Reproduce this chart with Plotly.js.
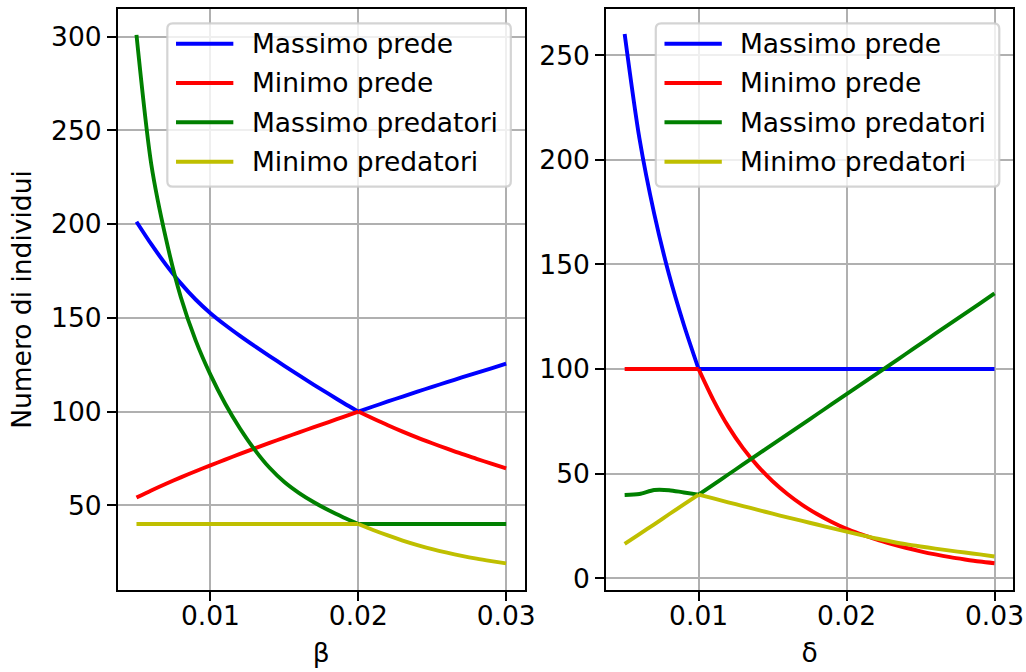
<!DOCTYPE html>
<html>
<head>
<meta charset="utf-8">
<script src="https://cdn.plot.ly/plotly-3.0.1.min.js"></script>
<style>
  html, body { margin: 0; padding: 0; background: #ffffff; }
  #chart { width: 1026px; height: 672px; }
</style>
</head>
<body>
<div id="chart"></div>
<script>
// ---------- data ----------
const seriesNames = ["Massimo prede", "Minimo prede", "Massimo predatori", "Minimo predatori"];
const seriesColors = ["#0000ff", "#ff0000", "#008000", "#bfbf00"];

const beta = [0.005, 0.006, 0.007, 0.008, 0.009, 0.010, 0.011, 0.012, 0.013, 0.014, 0.015, 0.016, 0.017,
              0.018, 0.019, 0.020, 0.021, 0.022, 0.023, 0.024, 0.025, 0.026, 0.027, 0.028, 0.029, 0.030];
const betaMaxPrede = [201.3, 189.3, 178.3, 168.4, 159.8, 152.5, 146.2, 140.4, 134.9, 129.6, 124.4, 119.3, 114.3,
                      109.4, 104.6, 100.0, 102.7, 105.4, 108.0, 110.6, 113.2, 115.7, 118.2, 120.7, 123.1, 125.6];
const betaMinPrede = [54.1, 57.9, 61.5, 64.9, 68.2, 71.3, 74.4, 77.4, 80.4, 83.3, 86.1, 88.9, 91.7,
                      94.4, 97.2, 100.0, 96.3, 92.7, 89.3, 86.1, 83.1, 80.2, 77.4, 74.8, 72.2, 69.7];
const betaMaxPredatori = [301.0, 232.0, 192.0, 161.0, 138.0, 119.7, 104.2, 91.0, 79.6, 70.0, 62.4, 56.5, 51.6,
                          47.3, 43.5, 40.0, 40.0, 40.0, 40.0, 40.0, 40.0, 40.0, 40.0, 40.0, 40.0, 40.0];
const betaMinPredatori = [40.0, 40.0, 40.0, 40.0, 40.0, 40.0, 40.0, 40.0, 40.0, 40.0, 40.0, 40.0, 40.0,
                          40.0, 40.0, 40.0, 36.8, 33.9, 31.2, 28.8, 26.6, 24.7, 23.0, 21.5, 20.2, 19.0];
const betaEquilibrium = 0.020;   // where all four β-curves meet

const delta = [0.005, 0.006, 0.007, 0.008, 0.009, 0.010, 0.011, 0.012, 0.013, 0.014, 0.015, 0.016, 0.017,
               0.018, 0.019, 0.020, 0.021, 0.022, 0.023, 0.024, 0.025, 0.026, 0.027, 0.028, 0.029, 0.030];
const deltaMaxPrede = [260.2, 210.2, 174.2, 145.2, 121.2, 100.0, 100.0, 100.0, 100.0, 100.0, 100.0, 100.0, 100.0,
                       100.0, 100.0, 100.0, 100.0, 100.0, 100.0, 100.0, 100.0, 100.0, 100.0, 100.0, 100.0, 100.0];
const deltaMinPrede = [100.0, 100.0, 100.0, 100.0, 100.0, 100.0, 85.2, 72.6, 62.2, 53.6, 46.4, 40.3, 35.1,
                       30.7, 26.9, 23.6, 21.0, 18.6, 16.5, 14.6, 12.9, 11.4, 10.1, 9.0, 8.0, 7.2];
const deltaMaxPredatori = [39.8, 40.3, 42.2, 42.1, 41.0, 40.0, 44.8, 49.6, 54.4, 59.2, 64.0, 68.8, 73.6,
                           78.4, 83.2, 88.0, 92.8, 97.6, 102.4, 107.2, 112.0, 116.9, 121.7, 126.5, 131.3, 136.2];
const deltaMinPredatori = [16.4, 21.1, 25.8, 30.6, 35.3, 40.0, 38.2, 36.3, 34.5, 32.7, 30.9, 29.1, 27.4,
                           25.7, 24.0, 22.3, 20.6, 19.0, 17.6, 16.3, 15.2, 14.2, 13.2, 12.3, 11.4, 10.4];
const deltaEquilibrium = 0.010;  // where all four δ-curves meet

const xTitleLeft = "β";
const xTitleRight = "δ";
const yTitle = "Numero di individui";

// ---------- figure geometry (pixels) ----------
const FIG_W = 1026, FIG_H = 672;
const M = { l: 118, r: 13.3, t: 9, b: 82 };
const PW = FIG_W - M.l - M.r;
const PH = FIG_H - M.t - M.b;
const px2x = p => (p - M.l) / PW;
const py2y = p => (FIG_H - M.b - p) / PH;

const FONT = "DejaVu Sans, Liberation Sans, sans-serif";
const FS = 26.5;
const LW = 3.9;

const leftSeries = [betaMaxPrede, betaMinPrede, betaMaxPredatori, betaMinPredatori];
const rightSeries = [deltaMaxPrede, deltaMinPrede, deltaMaxPredatori, deltaMinPredatori];

// each curve is smooth on both sides of the equilibrium point, with a corner there
function addCurve(traces, xs, ys, kinkX, i, xa, ya) {
  const k = xs.findIndex(v => Math.abs(v - kinkX) < 1e-9);
  const parts = [[xs.slice(0, k + 1), ys.slice(0, k + 1)], [xs.slice(k), ys.slice(k)]];
  parts.forEach(p => traces.push({
    type: "scatter", mode: "lines", x: p[0], y: p[1], name: seriesNames[i],
    legendgroup: seriesNames[i], showlegend: false,
    line: { color: seriesColors[i], width: LW, shape: "spline", smoothing: 0.8 },
    xaxis: xa, yaxis: ya
  }));
}

const traces = [];
leftSeries.forEach((ys, i) => addCurve(traces, beta, ys, betaEquilibrium, i, "x", "y"));
rightSeries.forEach((ys, i) => addCurve(traces, delta, ys, deltaEquilibrium, i, "x2", "y2"));

function axisCommon() {
  return {
    showline: true, mirror: true, linecolor: "#000000", linewidth: 2,
    ticks: "outside", ticklen: 9, tickwidth: 2, tickcolor: "#000000",
    showgrid: true, gridcolor: "#b0b0b0", gridwidth: 2,
    zeroline: false,
    tickfont: { family: FONT, size: FS, color: "#000000" },
    automargin: false
  };
}

const xLeftRightEdge = px2x(524.5);
const xRightLeftEdge = px2x(606);

const layout = {
  width: FIG_W, height: FIG_H,
  margin: M,
  paper_bgcolor: "#ffffff", plot_bgcolor: "#ffffff",
  font: { family: FONT, size: FS, color: "#000000" },
  showlegend: false,
  xaxis: Object.assign(axisCommon(), {
    domain: [0, xLeftRightEdge], anchor: "y",
    range: [0.00375, 0.03125], tick0: 0, dtick: 0.01, tickformat: ".2f",
    ticklabelstandoff: -8,
    title: { text: xTitleLeft, font: { family: FONT, size: FS, color: "#000000" }, standoff: 14 }
  }),
  yaxis: Object.assign(axisCommon(), {
    domain: [0, 1], anchor: "x",
    range: [4.8, 314.8], tick0: 0, dtick: 50,
    title: { text: yTitle, font: { family: FONT, size: FS, color: "#000000" }, standoff: 12 }
  }),
  xaxis2: Object.assign(axisCommon(), {
    domain: [xRightLeftEdge, 1], anchor: "y2",
    range: [0.00375, 0.03125], tick0: 0, dtick: 0.01, tickformat: ".2f",
    ticklabelstandoff: -8,
    title: { text: xTitleRight, font: { family: FONT, size: FS, color: "#000000" }, standoff: 14 }
  }),
  yaxis2: Object.assign(axisCommon(), {
    domain: [0, 1], anchor: "x2",
    range: [-5.6, 272.1], tick0: 0, dtick: 50
  }),
  shapes: [],
  annotations: []
};

// ---------- legends (one per panel), drawn in matplotlib style ----------
function addLegend(boxLeftPx) {
  const top = 23.3, bottom = 186.7, w = 343.4, r = 5.5;
  const x0 = px2x(boxLeftPx), x1 = px2x(boxLeftPx + w);
  const y1 = py2y(top), y0 = py2y(bottom);
  const rx = r / PW, ry = r / PH;
  const path = `M ${x0 + rx},${y1} L ${x1 - rx},${y1} Q ${x1},${y1} ${x1},${y1 - ry} ` +
               `L ${x1},${y0 + ry} Q ${x1},${y0} ${x1 - rx},${y0} L ${x0 + rx},${y0} ` +
               `Q ${x0},${y0} ${x0},${y0 + ry} L ${x0},${y1 - ry} Q ${x0},${y1} ${x0 + rx},${y1} Z`;
  layout.shapes.push({
    type: "path", xref: "paper", yref: "paper", path: path, layer: "above",
    fillcolor: "rgba(255,255,255,0.8)", line: { color: "rgba(204,204,204,0.85)", width: 2.2 }
  });
  const rows = [43.7, 83.0, 122.3, 161.7];
  rows.forEach((ry0, i) => {
    layout.shapes.push({
      type: "line", xref: "paper", yref: "paper", layer: "above",
      x0: px2x(boxLeftPx + 8.7), x1: px2x(boxLeftPx + 66), y0: py2y(ry0), y1: py2y(ry0),
      line: { color: seriesColors[i], width: LW }
    });
    layout.annotations.push({
      xref: "paper", yref: "paper", x: px2x(boxLeftPx + 82.5), y: py2y(ry0),
      xanchor: "left", yanchor: "middle", showarrow: false, text: seriesNames[i],
      font: { family: FONT, size: FS, color: "#000000" }
    });
  });
}
addLegend(167.3);
addLegend(655.6);

Plotly.newPlot("chart", traces, layout, { staticPlot: true, displayModeBar: false });
</script>
</body>
</html>
